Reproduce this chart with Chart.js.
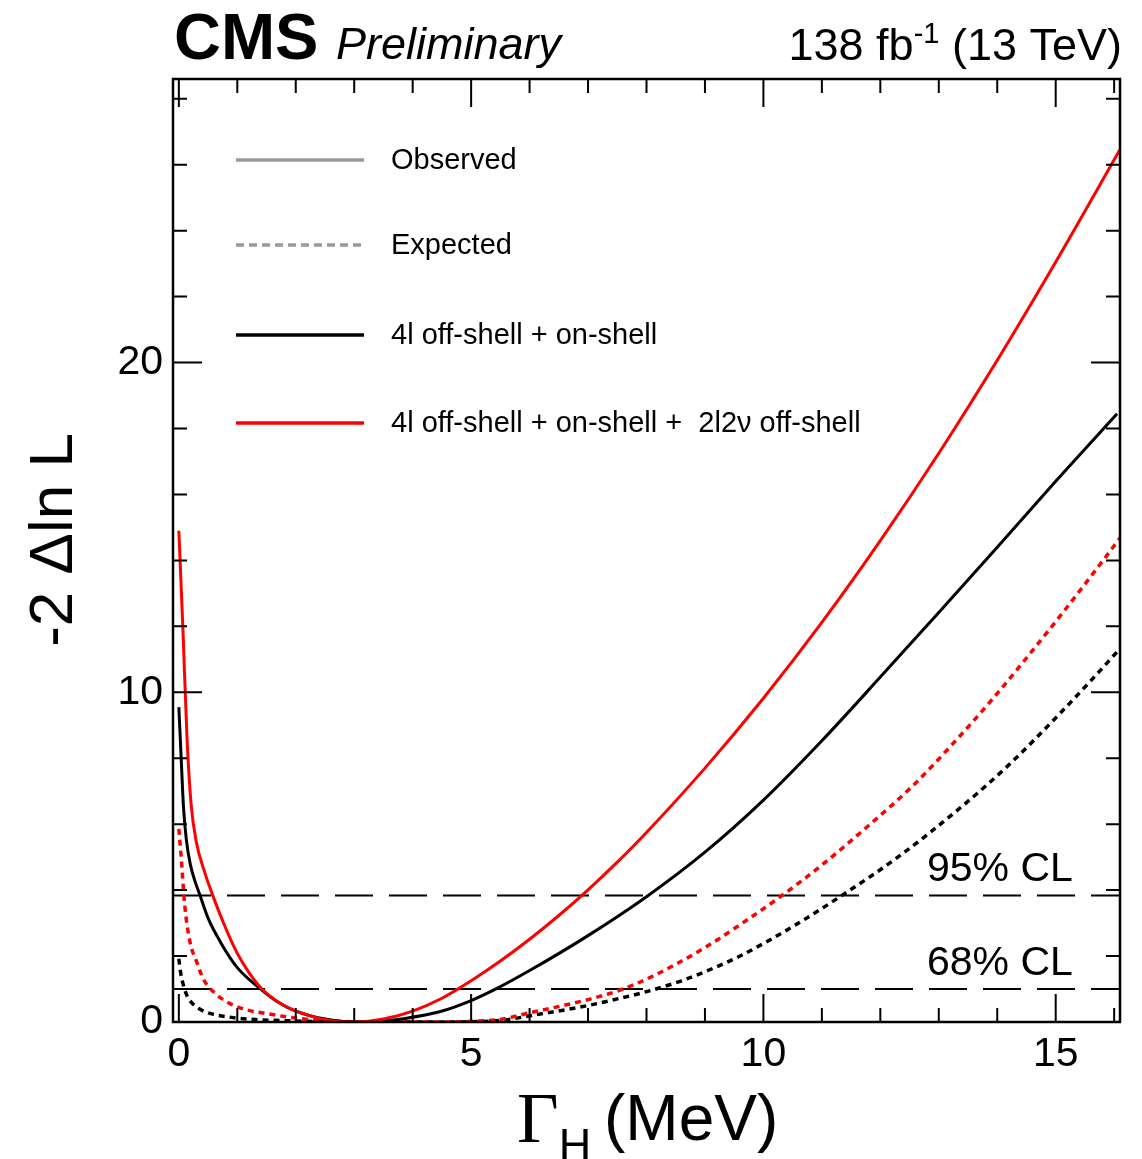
<!DOCTYPE html>
<html>
<head>
<meta charset="utf-8">
<script src="https://cdn.jsdelivr.net/npm/chart.js@4.4.1/dist/chart.umd.min.js"></script>
<style>
  html, body { margin: 0; padding: 0; background: #fff; }
  #wrap { position: relative; width: 1142px; height: 1159px; }
</style>
</head>
<body>
<div id="wrap"><canvas id="chart"></canvas></div>
<script>
// Gamma_H (MeV) scan points and -2 Delta ln L values
const widthRedObs = [0.0, 0.07, 0.14, 0.21, 0.3, 0.45, 0.58, 0.8, 1.0, 1.2, 1.44, 1.8, 2.12, 2.5, 3.0, 3.5, 4.0, 4.5, 5.0, 5.5, 6.0, 6.5, 7.0, 7.5, 8.0, 9.0, 10.0, 11.0, 12.0, 13.0, 14.0, 15.0, 16.1];
const nllRedObs   = [14.9, 11.9, 8.6, 6.6, 5.45, 4.5, 3.84, 2.85, 2.08, 1.5, 0.97, 0.5, 0.26, 0.07, 0.0, 0.09, 0.33, 0.72, 1.25, 1.85, 2.51, 3.23, 4.01, 4.85, 5.75, 7.7, 9.82, 12.12, 14.6, 17.25, 20.07, 23.05, 26.46];

const widthBlackObs = [0.0, 0.04, 0.08, 0.13, 0.2, 0.28, 0.36, 0.5, 0.71, 1.0, 1.4, 1.7, 2.0, 2.5, 3.0, 3.5, 3.84, 4.46, 5.0, 5.4, 6.0, 7.0, 8.0, 9.0, 10.0, 11.0, 12.0, 13.0, 14.0, 15.0, 16.05];
const nllBlackObs   = [9.55, 8.0, 6.5, 5.5, 4.75, 4.25, 3.85, 3.15, 2.43, 1.65, 1.0, 0.6, 0.33, 0.09, 0.0, 0.03, 0.1, 0.31, 0.65, 0.98, 1.56, 2.62, 3.8, 5.15, 6.73, 8.53, 10.46, 12.42, 14.4, 16.4, 18.45];

const widthRedExp = [0.0, 0.04, 0.1, 0.19, 0.3, 0.42, 0.6, 0.81, 1.1, 1.55, 2.0, 2.4, 3.0, 4.0, 4.6, 5.0, 5.5, 6.0, 6.5, 7.0, 7.55, 8.0, 8.5, 9.03, 9.6, 10.29, 11.0, 11.8, 12.53, 13.2, 13.96, 14.5, 15.11, 15.6, 16.17];
const nllRedExp   = [5.86, 5.0, 3.55, 2.43, 1.85, 1.3, 0.9, 0.62, 0.4, 0.24, 0.12, 0.05, 0.01, 0.0, 0.0, 0.02, 0.08, 0.28, 0.47, 0.68, 0.97, 1.3, 1.75, 2.29, 2.95, 3.8, 4.76, 5.96, 7.12, 8.36, 9.88, 11.04, 12.39, 13.51, 14.84];

const widthBlackExp = [0.0, 0.03, 0.07, 0.12, 0.18, 0.35, 0.53, 0.9, 1.27, 2.0, 3.0, 4.0, 4.6, 5.0, 5.5, 6.18, 7.0, 7.5, 8.0, 8.6, 9.1, 9.6, 10.46, 11.31, 12.3, 13.37, 14.2, 15.08, 15.6, 16.14];
const nllBlackExp   = [1.92, 1.5, 1.17, 0.88, 0.67, 0.4, 0.26, 0.14, 0.08, 0.03, 0.0, 0.0, 0.0, 0.01, 0.05, 0.24, 0.5, 0.7, 0.92, 1.25, 1.6, 2.0, 2.85, 3.8, 5.0, 6.5, 7.8, 9.37, 10.35, 11.4];

const clLevels = [1.0, 3.84];
const clLabels = ["68% CL", "95% CL"];

const xMajorTicks = [0, 5, 10, 15];
const yMajorTicks = [0, 10, 20];
const xRange = [-0.1, 16.1];
const yRange = [0, 28.6];

const legendLabels = ["Observed", "Expected", "4l off-shell + on-shell", "4l off-shell + on-shell +  2l2\u03bd off-shell"];

const SANS = "'Liberation Sans', Arial, Helvetica, sans-serif";
Chart.defaults.font.family = SANS;
Chart.defaults.color = "#000";

const pts = (xs, ys) => xs.map((v, i) => ({ x: v, y: ys[i] }));

function curve(xs, ys, color, dashed) {
  return {
    data: pts(xs, ys),
    showLine: true,
    borderColor: color,
    borderWidth: dashed ? 3.5 : 3,
    borderDash: dashed ? [6, 5] : [],
    pointRadius: 0,
    cubicInterpolationMode: "monotone",
  };
}

function clLine(level) {
  return {
    data: [{ x: xRange[0], y: level }, { x: xRange[1], y: level }],
    showLine: true,
    borderColor: "#000",
    borderWidth: 2,
    borderDash: [38, 16],
    pointRadius: 0,
  };
}

const rootStyle = {
  id: "rootStyle",
  afterDraw(chart) {
    const { ctx, chartArea: a } = chart;
    const sx = chart.scales.x, sy = chart.scales.y;
    ctx.save();
    ctx.strokeStyle = "#000";
    ctx.fillStyle = "#000";
    ctx.lineWidth = 2;

    // ticks inside the frame on all four sides
    ctx.beginPath();
    for (let v = 0; v <= 16; v++) {
      const px = sx.getPixelForValue(v);
      const len = xMajorTicks.includes(v) ? 28 : 14;
      ctx.moveTo(px, a.bottom); ctx.lineTo(px, a.bottom - len);
      ctx.moveTo(px, a.top); ctx.lineTo(px, a.top + len);
    }
    for (let v = 0; v <= 28; v += 2) {
      const py = sy.getPixelForValue(v);
      const len = yMajorTicks.includes(v) ? 29 : 14;
      ctx.moveTo(a.left, py); ctx.lineTo(a.left + len, py);
      ctx.moveTo(a.right, py); ctx.lineTo(a.right - len, py);
    }
    ctx.stroke();

    ctx.lineWidth = 2.5;
    ctx.strokeRect(a.left, a.top, a.right - a.left, a.bottom - a.top);

    // CL labels
    ctx.font = "41px " + SANS;
    ctx.textAlign = "left";
    ctx.textBaseline = "alphabetic";
    clLevels.forEach((lv, i) => {
      ctx.fillText(clLabels[i], a.right - 193, sy.getPixelForValue(lv) - 14);
    });

    // legend
    const rows = [
      { c: "#999999", d: [] },
      { c: "#999999", d: [8, 5] },
      { c: "#000000", d: [] },
      { c: "#ff0000", d: [] },
    ];
    const rowY = [160, 245, 335, 423];
    rows.forEach((r, i) => {
      ctx.beginPath();
      ctx.setLineDash(r.d);
      ctx.strokeStyle = r.c;
      ctx.lineWidth = 3.5;
      ctx.moveTo(236, rowY[i]); ctx.lineTo(364, rowY[i]);
      ctx.stroke();
      ctx.setLineDash([]);
      ctx.font = "29px " + SANS;
      ctx.textBaseline = "middle";
      ctx.fillText(legendLabels[i], 391, rowY[i] + 1);
    });

    // header
    ctx.textBaseline = "alphabetic";
    ctx.font = "bold 65px " + SANS;
    ctx.fillText("CMS", 174, 59);
    ctx.font = "italic 45px " + SANS;
    ctx.fillText("Preliminary", 336, 59);

    ctx.font = "45px " + SANS;
    const p1 = "138 fb", p2 = " (13 TeV)";
    const w1 = ctx.measureText(p1).width, w2 = ctx.measureText(p2).width;
    ctx.font = "29px " + SANS;
    const ws = ctx.measureText("-1").width;
    let hx = 1122 - (w1 + ws + w2);
    ctx.font = "45px " + SANS;
    ctx.fillText(p1, hx, 60);
    ctx.font = "29px " + SANS;
    ctx.fillText("-1", hx + w1, 43);
    ctx.font = "45px " + SANS;
    ctx.fillText(p2, hx + w1 + ws, 60);

    // x title
    ctx.font = "72px 'Liberation Serif', 'Times New Roman', serif";
    ctx.fillText("\u0393", 517, 1142);
    const gw = ctx.measureText("\u0393").width;
    ctx.font = "45px " + SANS;
    ctx.fillText("H", 517 + gw, 1160);
    ctx.font = "64px " + SANS;
    ctx.fillText("(MeV)", 604, 1140);

    // y title
    ctx.translate(72, 540);
    ctx.rotate(-Math.PI / 2);
    ctx.textAlign = "center";
    ctx.font = "62px " + SANS;
    ctx.fillText("-2 \u0394ln L", 0, 0);
    ctx.restore();
  },
};

new Chart(document.getElementById("chart").getContext("2d"), {
  type: "scatter",
  data: {
    datasets: [
      curve(widthRedObs, nllRedObs, "#ff0000", false),
      curve(widthBlackObs, nllBlackObs, "#000000", false),
      curve(widthRedExp, nllRedExp, "#ff0000", true),
      curve(widthBlackExp, nllBlackExp, "#000000", true),
      clLine(clLevels[0]),
      clLine(clLevels[1]),
    ],
  },
  options: {
    responsive: true,
    maintainAspectRatio: false,
    animation: false,
    events: [],
    layout: { padding: { top: 79, right: 22, left: 0, bottom: 0 } },
    plugins: { legend: { display: false }, tooltip: { enabled: false } },
    scales: {
      x: {
        type: "linear",
        min: xRange[0],
        max: xRange[1],
        grid: { display: false, drawTicks: false },
        border: { display: false },
        afterBuildTicks: (s) => { s.ticks = xMajorTicks.map((v) => ({ value: v })); },
        afterFit: (s) => { s.height = 137; },
        ticks: { font: { size: 41 }, padding: 8, maxRotation: 0, callback: (v) => String(v) },
      },
      y: {
        type: "linear",
        min: yRange[0],
        max: yRange[1],
        grid: { display: false, drawTicks: false },
        border: { display: false },
        afterBuildTicks: (s) => { s.ticks = yMajorTicks.map((v) => ({ value: v })); },
        afterFit: (s) => { s.width = 173; },
        ticks: { font: { size: 41 }, padding: 10, callback: (v) => String(v) },
      },
    },
  },
  plugins: [rootStyle],
});
</script>
</body>
</html>
